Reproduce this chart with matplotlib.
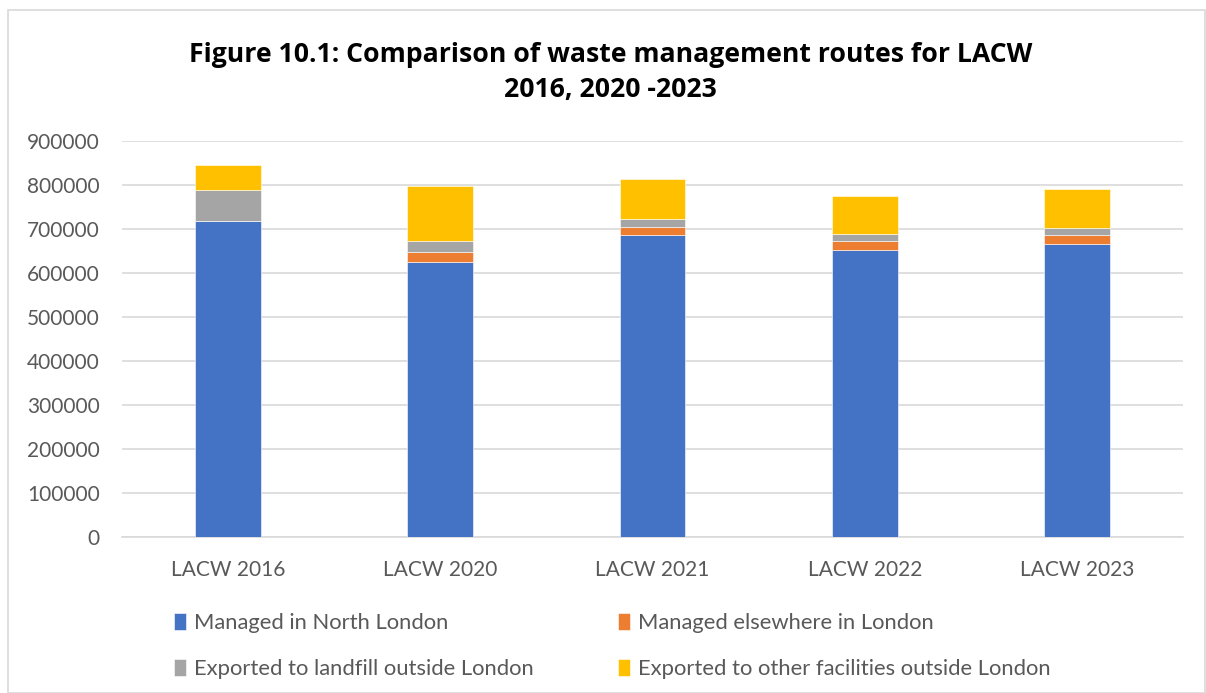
import matplotlib.pyplot as plt
from matplotlib.patches import Rectangle

# Data (tonnes)
categories = ["LACW 2016", "LACW 2020", "LACW 2021", "LACW 2022", "LACW 2023"]
north_london = [718000, 625000, 686000, 653000, 666000]
elsewhere_london = [0, 22500, 19000, 19500, 20500]
landfill_outside = [70000, 25000, 17500, 17000, 16000]
other_outside = [57000, 125000, 92000, 86500, 89500]

series_names = ["Managed in North London", "Managed elsewhere in London",
                "Exported to landfill outside London",
                "Exported to other facilities outside London"]
series_values = [north_london, elsewhere_london, landfill_outside, other_outside]
colors = ["#4472C4", "#ED7D31", "#A5A5A5", "#FFC000"]
yticks = [0, 100000, 200000, 300000, 400000, 500000, 600000, 700000, 800000, 900000]

plt.rcParams['font.family'] = ['Lato', 'DejaVu Sans']

fig = plt.figure(figsize=(12.06, 6.93), dpi=100)
ax = fig.add_axes([0.1012, 0.2255, 0.8797, 0.571])

x = range(len(categories))
bottom = [0] * len(categories)
handles = []
for name, vals, col in zip(series_names, series_values, colors):
    b = ax.bar(x, vals, width=0.31, bottom=bottom, color=col, label=name,
               edgecolor="white", linewidth=0.4, zorder=3)
    handles.append(b)
    bottom = [bt + v for bt, v in zip(bottom, vals)]

ax.set_xlim(-0.5, len(categories) - 0.5)
ax.set_ylim(0, 900000)
ax.set_yticks(yticks)
ax.set_yticklabels([str(t) for t in yticks])
ax.set_xticks(list(x))
ax.set_xticklabels(categories)
ax.yaxis.grid(True, color="#D9D9D9", linewidth=1.2, zorder=0)
ax.set_axisbelow(True)
for s in ["top", "right", "left"]:
    ax.spines[s].set_visible(False)
ax.spines["bottom"].set_color("#D9D9D9")
ax.spines["bottom"].set_linewidth(1.2)
ax.tick_params(axis="both", length=0, labelsize=15, colors="#595959")
ax.tick_params(axis="y", pad=16)
ax.tick_params(axis="x", pad=17)

fig.text(0.506, 0.895, "Figure 10.1: Comparison of waste management routes for LACW\n2016, 2020 -2023",
         ha="center", va="center", fontsize=19.2, fontweight="bold", color="black",
         linespacing=1.45, family=["Open Sans", "DejaVu Sans"])

# matplotlib fills legend columns first, so reorder to get row-major layout
order = [0, 2, 1, 3]
leg = fig.legend(handles=[handles[i] for i in order],
                 labels=[series_names[i] for i in order], loc="upper left",
                 bbox_to_anchor=(0.137, 0.128), ncol=2, frameon=False,
                 fontsize=15.8, labelcolor="#595959", handlelength=0.55,
                 handleheight=0.8, handletextpad=0.35, columnspacing=3.85,
                 borderaxespad=0, labelspacing=1.2)

fig.patches.append(Rectangle((0.007, 0.0), 0.992, 0.985, transform=fig.transFigure,
                             fill=False, edgecolor="#D9D9D9", linewidth=1.2))

fig.savefig("out.png", dpi=100)
